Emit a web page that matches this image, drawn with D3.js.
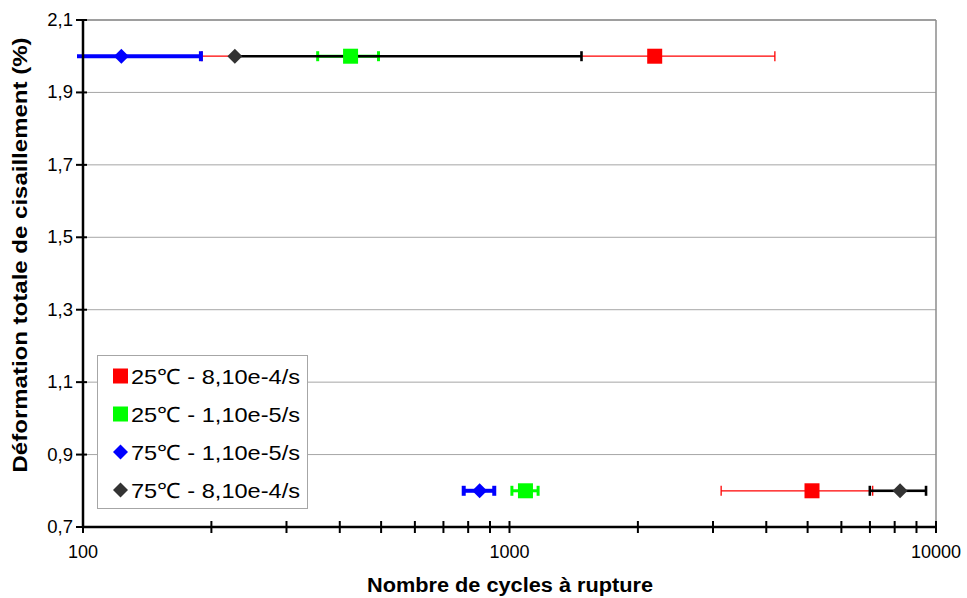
<!DOCTYPE html>
<html><head><meta charset="utf-8">
<script src="https://cdn.jsdelivr.net/npm/d3@7"></script>
<style>body{margin:0;background:#fff}svg{display:block}text{font-family:"Liberation Sans",Arial,sans-serif}</style>
</head><body>
<svg id="c" width="967" height="598"></svg>
<script>
// ---- data ----
const seriesNames = ["25℃ - 8,10e-4/s", "25℃ - 1,10e-5/s", "75℃ - 1,10e-5/s", "75℃ - 8,10e-4/s"];
const strain = [2.0, 0.8];                 // Déformation totale (%)
const cycles25Fast = [2190, 5120];
const err25Fast   = [2000, 1985];
const cycles25Slow = [424, 1090];
const err25Slow   = [69, 77];
const cycles75Slow = [123, 851];
const err75Slow   = [66, 70];
const cycles75Fast = [227, 8236];
const err75Fast   = [1248, 1240];
const yTicks = [0.7, 0.9, 1.1, 1.3, 1.5, 1.7, 1.9, 2.1];
const xMajor = [100, 1000, 10000];

const series = [
  {name: seriesNames[0], x: cycles25Fast, e: err25Fast, color: "#ff0000", fill: "#ff0000", shape: "square", lw: 1.3},
  {name: seriesNames[1], x: cycles25Slow, e: err25Slow, color: "#00ff00", fill: "#00ff00", shape: "square", lw: 3},
  {name: seriesNames[2], x: cycles75Slow, e: err75Slow, color: "#0000ff", fill: "#0000ff", shape: "diamond", lw: 4},
  {name: seriesNames[3], x: cycles75Fast, e: err75Fast, color: "#000000", fill: "#333333", shape: "diamond", lw: 2.6}
];

const svg = d3.select("#c");
const L = 83, R = 936, T = 20, B = 527;
const x = d3.scaleLog().domain([100, 10000]).range([L, R]);
const y = d3.scaleLinear().domain([0.7, 2.1]).range([B, T]);

// gridlines
svg.append("g").selectAll("line").data(yTicks.slice(1)).join("line")
  .attr("x1", L).attr("x2", R).attr("y1", d => y(d)).attr("y2", d => y(d))
  .attr("stroke", "#a6a6a6").attr("stroke-width", 1);
svg.append("line").attr("x1", R).attr("x2", R).attr("y1", T).attr("y2", B)
  .attr("stroke", "#8c8c8c").attr("stroke-width", 1.5);
svg.append("line").attr("x1", L).attr("x2", R).attr("y1", T).attr("y2", T)
  .attr("stroke", "#8c8c8c").attr("stroke-width", 1.5);

svg.append("clipPath").attr("id", "clip").append("rect")
  .attr("x", L - 6).attr("y", T - 10).attr("width", R - L + 6).attr("height", B - T + 20);

const eb = svg.append("g").attr("clip-path", "url(#clip)");
series.forEach(s => {
  s.x.forEach((v, i) => {
    const yy = y(strain[i]);
    const lo = v - s.e[i], hi = v + s.e[i];
    const g = eb.append("g").attr("stroke", s.color).attr("stroke-width", s.lw);
    g.append("line").attr("x1", x(v)).attr("x2", x(hi)).attr("y1", yy).attr("y2", yy);
    g.append("line").attr("x1", x(hi)).attr("x2", x(hi)).attr("y1", yy - 5).attr("y2", yy + 5);
    if (lo > 0) {
      g.append("line").attr("x1", x(lo)).attr("x2", x(v)).attr("y1", yy).attr("y2", yy);
      if (lo >= 100) g.append("line").attr("x1", x(lo)).attr("x2", x(lo)).attr("y1", yy - 5).attr("y2", yy + 5);
    }
  });
});

function marker(g, shape, cx, cy, fill) {
  if (shape === "square") {
    g.append("rect").attr("x", cx - 7.5).attr("y", cy - 7.5).attr("width", 15).attr("height", 15).attr("fill", fill);
  } else {
    g.append("path").attr("d", `M${cx},${cy - 7.5}L${cx + 7.5},${cy}L${cx},${cy + 7.5}L${cx - 7.5},${cy}Z`).attr("fill", fill);
  }
}
const mk = svg.append("g");
series.forEach(s => s.x.forEach((v, i) => marker(mk, s.shape, x(v), y(strain[i]), s.fill)));

// axes
const xAll = [];
[100, 1000].forEach(b => { for (let k = 1; k <= 9; k++) xAll.push(b * k); });
xAll.push(10000);
const ax = svg.append("g");
ax.append("line").attr("x1", L).attr("x2", R).attr("y1", B).attr("y2", B).attr("stroke", "#000").attr("stroke-width", 2.5);
ax.append("line").attr("x1", L).attr("x2", L).attr("y1", T).attr("y2", B).attr("stroke", "#000").attr("stroke-width", 2.5);
ax.selectAll(".xt").data(xAll).join("line").attr("x1", d => x(d)).attr("x2", d => x(d))
  .attr("y1", B - 6).attr("y2", B + 6).attr("stroke", "#000").attr("stroke-width", 2);
ax.selectAll(".yt").data(yTicks).join("line").attr("x1", L - 7).attr("x2", L + 4)
  .attr("y1", d => y(d)).attr("y2", d => y(d)).attr("stroke", "#000").attr("stroke-width", 2);
ax.selectAll(".xl").data(xMajor).join("text").attr("x", d => x(d)).attr("y", B + 31)
  .attr("text-anchor", "middle").attr("font-size", 18).text(d => d3.format("d")(d));
ax.selectAll(".yl").data(yTicks).join("text").attr("x", L - 10).attr("y", d => y(d) + 6)
  .attr("text-anchor", "end").attr("font-size", 18.5).text(d => d3.format(".1f")(d).replace(".", ","));

svg.append("text").attr("x", 510).attr("y", 592).attr("text-anchor", "middle")
  .attr("font-size", 20).attr("font-weight", "bold")
  .attr("textLength", 286).attr("lengthAdjust", "spacingAndGlyphs").text("Nombre de cycles à rupture");
svg.append("text").attr("transform", "translate(27,255) rotate(-90)").attr("text-anchor", "middle")
  .attr("font-size", 20).attr("font-weight", "bold")
  .attr("textLength", 435).attr("lengthAdjust", "spacingAndGlyphs").text("Déformation totale de cisaillement (%)");

// legend
const lg = svg.append("g");
lg.append("rect").attr("x", 97.5).attr("y", 355.5).attr("width", 210).attr("height", 153)
  .attr("fill", "#fff").attr("stroke", "#a6a6a6").attr("stroke-width", 1);
series.forEach((s, i) => {
  const cy = 376 + i * 38;
  marker(lg, s.shape, 120.5, cy, s.fill);
  lg.append("text").attr("x", 131).attr("y", cy + 7.5).attr("font-size", 21)
    .attr("textLength", 169).attr("lengthAdjust", "spacingAndGlyphs").text(s.name);
});
</script>
</body></html>
